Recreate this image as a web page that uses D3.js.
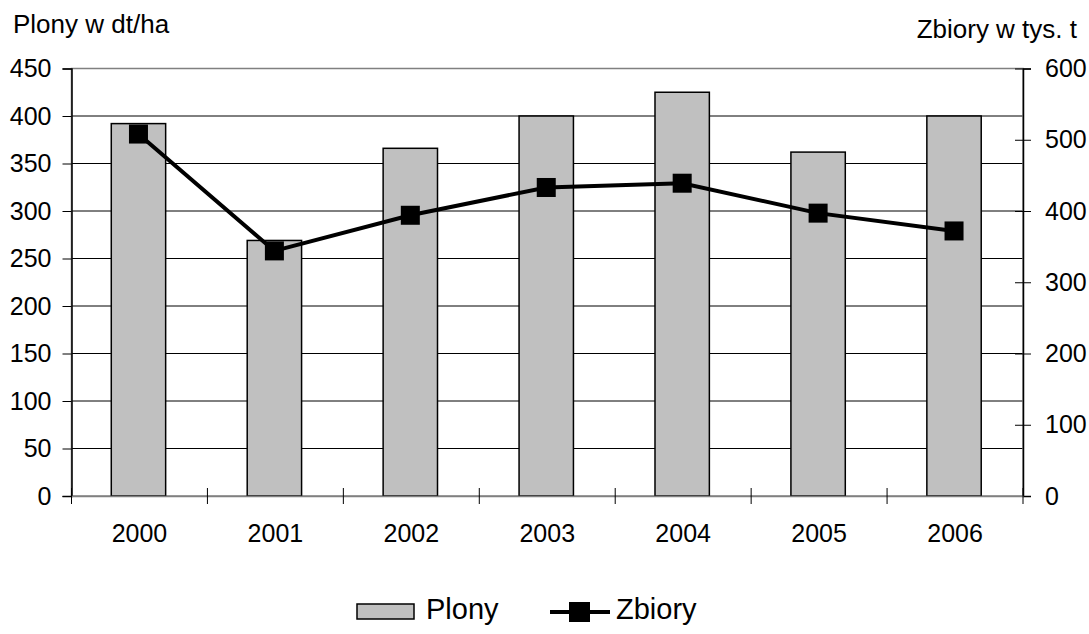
<!DOCTYPE html>
<html><head><meta charset="utf-8">
<script src="https://cdn.jsdelivr.net/npm/d3@7"></script>
<style>body{margin:0;background:#fff;} svg{display:block;font-family:"Liberation Sans",Arial,sans-serif;}</style>
</head><body>
<svg id="c" width="1089" height="634"></svg>
<script>
const years = ["2000","2001","2002","2003","2004","2005","2006"];
const plony = [392, 269, 366, 400, 425, 362, 400];
const zbiory = [508, 344, 394, 433, 439, 397, 372];
const leftTicks = [0,50,100,150,200,250,300,350,400,450];
const rightTicks = [0,100,200,300,400,500,600];

const svg = d3.select("#c");
const L = 71.5, R = 1023, T = 68.5, B = 496;
const x = d3.scaleBand().domain(years).range([L, R]).padding(0);
const yL = d3.scaleLinear().domain([0,450]).range([B, T]);
const yR = d3.scaleLinear().domain([0,600]).range([B, T]);

// gridlines
svg.append("g").selectAll("line").data(leftTicks.filter(d=>d>0 && d<450)).join("line")
  .attr("x1", L).attr("x2", R).attr("y1", d=>yL(d)).attr("y2", d=>yL(d))
  .attr("stroke", "#000").attr("stroke-width", 1);
// plot border
svg.append("rect").attr("x", L).attr("y", T).attr("width", R-L).attr("height", B-T)
  .attr("fill","none").attr("stroke","#808080").attr("stroke-width",1.5);

// bars
const bw = x.bandwidth()*0.4;
svg.append("g").selectAll("rect").data(years).join("rect")
  .attr("x", (d)=>x(d)+x.bandwidth()/2-bw/2 - 1)
  .attr("width", bw)
  .attr("y", (d,i)=>yL(plony[i]))
  .attr("height", (d,i)=>B - yL(plony[i]))
  .attr("fill","#c0c0c0").attr("stroke","#000").attr("stroke-width",1.5);

// axes
const axL = svg.append("g").attr("transform",`translate(${L},0)`)
  .call(d3.axisLeft(yL).tickValues(leftTicks).tickSize(9).tickPadding(11));
const axR = svg.append("g").attr("transform",`translate(${R},0)`)
  .call(d3.axisRight(yR).tickValues(rightTicks).tickSize(8).tickPadding(14));
axR.selectAll(".tick line").attr("x1",-8);
const axB = svg.append("g").attr("transform",`translate(0,${B})`)
  .call(d3.axisBottom(x).tickSize(0).tickPadding(28));
[axL,axR,axB].forEach(a=>{
  a.select(".domain").attr("stroke","#000").attr("stroke-width",1.5);
  a.selectAll("text").attr("font-size",25).attr("fill","#000").attr("font-family","Liberation Sans, Arial, sans-serif");
  a.selectAll(".tick line").attr("stroke","#000");
});
axB.select(".domain").attr("stroke","#808080");
// category separator ticks
svg.append("g").selectAll("line").data(d3.range(years.length+1)).join("line")
  .attr("x1", i=>L + i*x.bandwidth()).attr("x2", i=>L + i*x.bandwidth())
  .attr("y1", B-8).attr("y2", B+8).attr("stroke","#000").attr("stroke-width",1);

// line
const cx = (d)=>x(d)+x.bandwidth()/2 - 1;
svg.append("path").datum(years)
  .attr("d", d3.line().x(d=>cx(d)).y((d,i)=>yR(zbiory[i])))
  .attr("fill","none").attr("stroke","#000").attr("stroke-width",4);
const ms = 19;
svg.append("g").selectAll("rect").data(years).join("rect")
  .attr("x", d=>cx(d)-ms/2).attr("y",(d,i)=>yR(zbiory[i])-ms/2)
  .attr("width", ms).attr("height", ms).attr("fill","#000");

// titles
svg.append("text").attr("x",13).attr("y",33).attr("font-size",26).text("Plony w dt/ha");
svg.append("text").attr("x",1077).attr("y",38).attr("font-size",26).attr("text-anchor","end").text("Zbiory w tys. t");

// legend
const lg = svg.append("g");
lg.append("rect").attr("x",357).attr("y",604).attr("width",57).attr("height",15)
  .attr("fill","#c0c0c0").attr("stroke","#000").attr("stroke-width",1.5);
lg.append("text").attr("x",426).attr("y",619).attr("font-size",29).text("Plony");
lg.append("line").attr("x1",550).attr("x2",610).attr("y1",612).attr("y2",612).attr("stroke","#000").attr("stroke-width",4);
lg.append("rect").attr("x",569).attr("y",602).attr("width",21).attr("height",20).attr("fill","#000");
lg.append("text").attr("x",616).attr("y",619).attr("font-size",29).text("Zbiory");
</script>
</body></html>
